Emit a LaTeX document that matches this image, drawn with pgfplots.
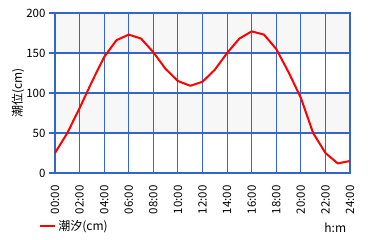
\documentclass[border=0pt]{standalone}
\usepackage{fontspec}
\setmainfont{Noto Sans CJK JP}
\usepackage{pgfplots}
\pgfplotsset{compat=1.18}
\definecolor{gridblue}{HTML}{3464D0}
\definecolor{band}{HTML}{F7F7F7}
\begin{document}
\begin{tikzpicture}
\begin{axis}[
  set layers,
  at={(0,0)}, anchor=south west,
  scale only axis, width=295pt, height=160pt,
  xmin=0, xmax=24, ymin=0, ymax=200,
  xtick={0,2,...,24}, ytick={0,50,...,200},
  xticklabels={00:00,02:00,04:00,06:00,08:00,10:00,12:00,14:00,16:00,18:00,20:00,22:00,24:00},
  grid=major,
  grid style={gridblue, line width=1.1pt},
  axis line style={gridblue, line width=1.1pt},
  xtick style={draw=none},
  ytick style={gridblue, line width=1.1pt},
  ytick pos=left, tick align=outside, major tick length=6pt,
  x tick label style={rotate=90, anchor=east, font=\fontsize{11.5}{11.5}\selectfont, xshift=-3pt},
  y tick label style={font=\fontsize{11.5}{11.5}\selectfont},
  /pgf/number format/assume math mode=true,
  ylabel={潮位(cm)},
  ylabel style={font=\fontsize{12}{12}\selectfont, at={(-0.125,0.5)}, anchor=center},
  legend style={at={(-0.057,-0.33)}, anchor=west, draw=none, fill=none, font=\fontsize{12}{12}\selectfont, inner xsep=1pt},
  legend image code/.code={\draw[red, line width=2pt] (0pt,0pt) -- (15pt,0pt);},
  clip=false,
]
\addplot[fill=band, draw=none, on layer=axis background, forget plot] coordinates {(0,150) (24,150) (24,200) (0,200) (0,150)};
\addplot[fill=band, draw=none, on layer=axis background, forget plot] coordinates {(0,50) (24,50) (24,100) (0,100) (0,50)};
\addplot[red, line width=2pt, line join=round] coordinates {
(0,25) (1,50) (2,81) (3,114) (4,145) (5,166) (6,173) (7,168) (8,151) (9,130) (10,115) (11,109) (12,114) (13,129) (14,150) (15,168) (16,177) (17,173) (18,155) (19,126) (20,94) (21,50) (22,25) (23,12) (24,15)
};
\addlegendentry{潮汐(cm)}
\node[anchor=center, font=\fontsize{12}{12}\selectfont] at (rel axis cs:0.95,-0.34) {h:m};
\end{axis}
\path (-55pt,-67pt) rectangle (325pt,173pt);
\end{tikzpicture}
\end{document}
